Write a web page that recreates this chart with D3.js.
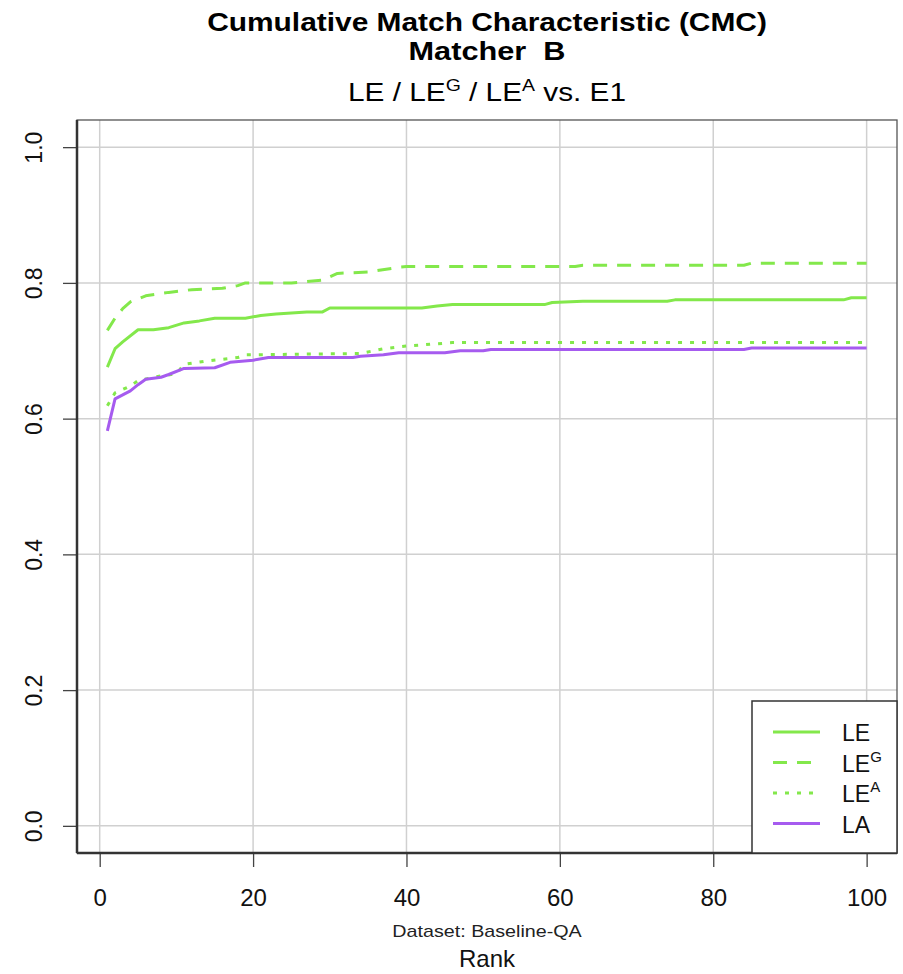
<!DOCTYPE html>
<html>
<head>
<meta charset="utf-8">
<script src="https://cdn.jsdelivr.net/npm/d3@7"></script>
<style>
  body { margin: 0; background: #fff; }
  svg { display: block; font-family: "Liberation Sans", Arial, sans-serif; }
</style>
</head>
<body>
<svg id="chart"></svg>
<script>
// chart size
const width = 903;
const height = 974;

// plot region (R style box, 4% padding on the data range)
const margin = { top: 120, right: 6, bottom: 121, left: 77 };

// ranks where the curves change, with the value
const rankLE = [1, 2, 3, 5, 7, 9, 11, 13, 15, 19, 21, 23, 27, 29, 30, 42, 44, 46, 58, 59, 63, 74, 75, 97, 98, 100];
const valLE  = [0.676, 0.703, 0.713, 0.731, 0.731, 0.734, 0.741, 0.744, 0.748, 0.748, 0.752, 0.754, 0.757, 0.757, 0.763, 0.763, 0.766, 0.768, 0.768, 0.771, 0.773, 0.773, 0.775, 0.775, 0.778, 0.778];

const rankLEG = [1, 2, 3, 4, 6, 9, 12, 16, 18, 19, 25, 27, 29, 31, 35, 39, 40, 62, 63, 84, 85, 100];
const valLEG  = [0.730, 0.748, 0.762, 0.772, 0.781, 0.786, 0.790, 0.792, 0.796, 0.800, 0.800, 0.802, 0.804, 0.814, 0.816, 0.823, 0.824, 0.824, 0.826, 0.826, 0.829, 0.829];

const rankLEA = [1, 2, 4, 5, 8, 10, 11, 14, 18, 19, 34, 37, 40, 46, 100];
const valLEA  = [0.619, 0.638, 0.648, 0.656, 0.663, 0.666, 0.680, 0.685, 0.690, 0.694, 0.696, 0.703, 0.707, 0.712, 0.712];

const rankLA = [1, 2, 4, 5, 6, 8, 9, 11, 15, 17, 20, 22, 33, 34, 37, 39, 45, 47, 50, 51, 84, 85, 100];
const valLA  = [0.582, 0.629, 0.641, 0.650, 0.658, 0.661, 0.665, 0.674, 0.675, 0.683, 0.686, 0.690, 0.690, 0.692, 0.694, 0.697, 0.697, 0.700, 0.700, 0.702, 0.702, 0.704, 0.704];

// tick labels
const xTicks = [0, 20, 40, 60, 80, 100];
const yTicks = [0, 0.2, 0.4, 0.6, 0.8, 1.0];

const green = "#83e84b";
const purple = "#a65bef";

const series = [
    { name: "LE", sup: "", ranks: rankLE, values: valLE, color: green, dash: null },
    { name: "LE", sup: "G", ranks: rankLEG, values: valLEG, color: green, dash: "14,10" },
    { name: "LE", sup: "A", ranks: rankLEA, values: valLEA, color: green, dash: "4,8" },
    { name: "LA", sup: "", ranks: rankLA, values: valLA, color: purple, dash: null }
];

const x = d3.scaleLinear()
    .domain([1 - 0.04 * 99, 100 + 0.04 * 99])
    .range([margin.left, width - margin.right]);

const y = d3.scaleLinear()
    .domain([-0.04, 1.04])
    .range([height - margin.bottom, margin.top]);

const svg = d3.select("#chart")
    .attr("width", width)
    .attr("height", height)
    .attr("viewBox", [0, 0, width, height]);

const cx = (margin.left + width - margin.right) / 2;

// the original text runs a bit wider than Liberation Sans, stretch it to fit
function fitWidth(g, target) {
    const w = g.node().getBBox().width;
    const t = g.attr("transform");
    g.attr("transform", `${t} scale(${target / w},1)`);
}

function centred(yPos) {
    return svg.append("g").attr("transform", `translate(${cx},${yPos})`);
}

// titles
const t1 = centred(31);
t1.append("text")
    .attr("text-anchor", "middle")
    .style("font-weight", "bold").style("font-size", "25px")
    .text("Cumulative Match Characteristic (CMC)");
fitWidth(t1, 560);

const t2 = centred(60);
t2.append("text")
    .attr("text-anchor", "middle")
    .attr("xml:space", "preserve")
    .style("white-space", "pre")
    .style("font-weight", "bold").style("font-size", "25px")
    .text("Matcher  B");
fitWidth(t2, 157);

const t3 = centred(101);
const sub = t3.append("text")
    .attr("text-anchor", "middle")
    .style("font-size", "26px");
sub.append("tspan").text("LE / LE");
sub.append("tspan").attr("dy", -10).style("font-size", "17px").text("G");
sub.append("tspan").attr("dy", 10).text(" / LE");
sub.append("tspan").attr("dy", -10).style("font-size", "17px").text("A");
sub.append("tspan").attr("dy", 10).text(" vs. E1");
fitWidth(t3, 278);

// grid
const grid = svg.append("g")
    .attr("stroke", "#d0d0d0")
    .attr("stroke-width", 1.5);

grid.selectAll(".gx")
    .data(xTicks)
    .join("line")
    .attr("x1", d => x(d)).attr("x2", d => x(d))
    .attr("y1", margin.top).attr("y2", height - margin.bottom);

grid.selectAll(".gy")
    .data(yTicks)
    .join("line")
    .attr("x1", margin.left).attr("x2", width - margin.right)
    .attr("y1", d => y(d)).attr("y2", d => y(d));

// curves
const line = d3.line()
    .x(d => x(d[0]))
    .y(d => y(d[1]));

svg.append("g")
    .selectAll("path")
    .data(series)
    .join("path")
    .attr("fill", "none")
    .attr("stroke", d => d.color)
    .attr("stroke-width", 3)
    .attr("stroke-linejoin", "round")
    .attr("stroke-dasharray", d => d.dash)
    .attr("d", d => line(d.ranks.map((r, i) => [r, d.values[i]])));

// axes
const xAxis = svg.append("g")
    .attr("transform", `translate(0,${height - margin.bottom})`)
    .call(d3.axisBottom(x).tickValues(xTicks).tickSize(14).tickPadding(22).tickFormat(d3.format("d")));
xAxis.select(".domain").remove();
xAxis.selectAll("line").attr("stroke", "#444").attr("stroke-width", 1.3);
xAxis.selectAll("text").style("font-size", "24px").attr("fill", "#111")
    .style("font-family", "'Liberation Sans', Arial, sans-serif");

const yAxis = svg.append("g")
    .attr("transform", `translate(${margin.left},0)`)
    .call(d3.axisLeft(y).tickValues(yTicks).tickSize(14).tickFormat(d3.format(".1f")));
yAxis.select(".domain").remove();
yAxis.selectAll("line").attr("stroke", "#444").attr("stroke-width", 1.3);
yAxis.selectAll("text")
    .style("font-size", "23px").attr("fill", "#111")
    .style("font-family", "'Liberation Sans', Arial, sans-serif")
    .attr("x", null).attr("dy", null)
    .attr("text-anchor", "middle")
    .attr("transform", "translate(-35,0) rotate(-90)");

// plot box
svg.append("rect")
    .attr("x", margin.left).attr("y", margin.top)
    .attr("width", width - margin.right - margin.left)
    .attr("height", height - margin.bottom - margin.top)
    .attr("fill", "none")
    .attr("stroke", "#555")
    .attr("stroke-width", 1.3);

// heavier axis lines along left and bottom
svg.append("line")
    .attr("x1", margin.left).attr("x2", margin.left)
    .attr("y1", margin.top).attr("y2", height - margin.bottom)
    .attr("stroke", "#333").attr("stroke-width", 2.5);
svg.append("line")
    .attr("x1", margin.left).attr("x2", width - margin.right)
    .attr("y1", height - margin.bottom).attr("y2", height - margin.bottom)
    .attr("stroke", "#333").attr("stroke-width", 2.5);

// axis captions
const cap = centred(937);
cap.append("text")
    .attr("text-anchor", "middle")
    .style("font-size", "16px").attr("fill", "#222")
    .text("Dataset: Baseline-QA");
fitWidth(cap, 190);

svg.append("text")
    .attr("x", cx).attr("y", 967)
    .attr("text-anchor", "middle")
    .style("font-size", "24px").attr("fill", "#111")
    .text("Rank");

// legend
const legX = 752, legY = 701;
const legend = svg.append("g");
legend.append("rect")
    .attr("x", legX).attr("y", legY)
    .attr("width", width - margin.right - legX)
    .attr("height", height - margin.bottom - legY)
    .attr("fill", "#fff")
    .attr("stroke", "#333")
    .attr("stroke-width", 1.5);

const item = legend.selectAll(".item")
    .data(series)
    .join("g")
    .attr("class", "item")
    .attr("transform", (d, i) => `translate(${legX},${legY + 31 + i * 30.5})`);

item.append("line")
    .attr("x1", 21).attr("x2", 68)
    .attr("stroke", d => d.color)
    .attr("stroke-width", 3)
    .attr("stroke-dasharray", d => d.dash);

const lab = item.append("text")
    .attr("x", 90).attr("y", 9)
    .style("font-size", "23px").attr("fill", "#111");
lab.append("tspan").text(d => d.name);
lab.append("tspan").attr("dy", -10).style("font-size", "15px").text(d => d.sup);
</script>
</body>
</html>
